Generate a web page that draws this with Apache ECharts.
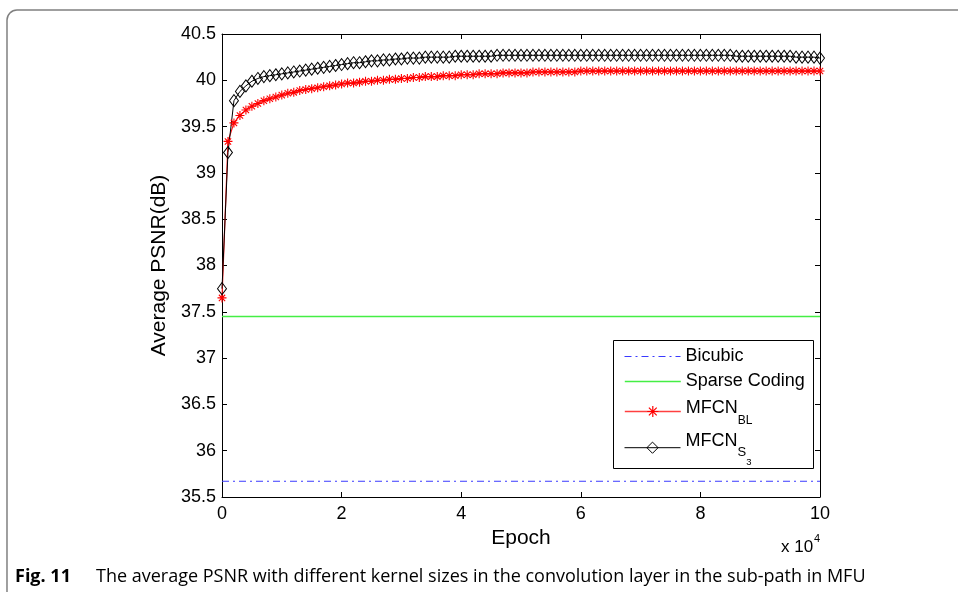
<!DOCTYPE html>
<html>
<head>
<meta charset="utf-8">
<script src="https://cdn.jsdelivr.net/npm/echarts@6/dist/echarts.min.js"></script>
<style>
  html, body { margin: 0; padding: 0; background: #ffffff; }
  #chart { width: 958px; height: 592px; }
</style>
</head>
<body>
<div id="chart"></div>
<script>
// Training epochs (sampled every 1000 epochs)
const epochs = [
  0, 1000, 2000, 3000, 4000, 5000, 6000, 7000, 8000, 9000,
  10000, 11000, 12000, 13000, 14000, 15000, 16000, 17000, 18000, 19000,
  20000, 21000, 22000, 23000, 24000, 25000, 26000, 27000, 28000, 29000,
  30000, 31000, 32000, 33000, 34000, 35000, 36000, 37000, 38000, 39000,
  40000, 41000, 42000, 43000, 44000, 45000, 46000, 47000, 48000, 49000,
  50000, 51000, 52000, 53000, 54000, 55000, 56000, 57000, 58000, 59000,
  60000, 61000, 62000, 63000, 64000, 65000, 66000, 67000, 68000, 69000,
  70000, 71000, 72000, 73000, 74000, 75000, 76000, 77000, 78000, 79000,
  80000, 81000, 82000, 83000, 84000, 85000, 86000, 87000, 88000, 89000,
  90000, 91000, 92000, 93000, 94000, 95000, 96000, 97000, 98000, 99000,
  100000
];

// Average PSNR (dB) of MFCN_BL
const mfcnBL = [
  37.65, 39.34, 39.54, 39.62, 39.68, 39.72, 39.75, 39.78, 39.80, 39.82,
  39.84, 39.86, 39.87, 39.89, 39.90, 39.91, 39.92, 39.93, 39.94, 39.95,
  39.96, 39.97, 39.97, 39.98, 39.99, 39.99, 40.00, 40.00, 40.01, 40.01,
  40.02, 40.02, 40.03, 40.03, 40.04, 40.04, 40.04, 40.05, 40.05, 40.05,
  40.06, 40.06, 40.06, 40.07, 40.07, 40.07, 40.07, 40.08, 40.08, 40.08,
  40.08, 40.08, 40.09, 40.09, 40.09, 40.09, 40.09, 40.09, 40.09, 40.09,
  40.10, 40.10, 40.10, 40.10, 40.10, 40.10, 40.10, 40.10, 40.10, 40.10,
  40.10, 40.10, 40.10, 40.10, 40.10, 40.10, 40.10, 40.10, 40.10, 40.10,
  40.10, 40.10, 40.10, 40.10, 40.10, 40.10, 40.10, 40.10, 40.10, 40.10,
  40.10, 40.10, 40.10, 40.10, 40.10, 40.10, 40.10, 40.10, 40.10, 40.10,
  40.10
];

// Average PSNR (dB) of MFCN_S3
const mfcnS3 = [
  37.75, 39.22, 39.78, 39.88, 39.94, 39.99, 40.02, 40.04, 40.05, 40.06,
  40.07, 40.08, 40.09, 40.10, 40.11, 40.12, 40.13, 40.14, 40.15, 40.16,
  40.17, 40.18, 40.19, 40.19, 40.20, 40.21, 40.21, 40.22, 40.22, 40.23,
  40.23, 40.24, 40.24, 40.24, 40.25, 40.25, 40.25, 40.25, 40.25, 40.26,
  40.26, 40.26, 40.26, 40.26, 40.26, 40.26, 40.27, 40.27, 40.27, 40.27,
  40.27, 40.27, 40.27, 40.27, 40.27, 40.27, 40.27, 40.27, 40.27, 40.27,
  40.27, 40.27, 40.27, 40.27, 40.27, 40.27, 40.27, 40.27, 40.27, 40.27,
  40.27, 40.27, 40.27, 40.27, 40.27, 40.27, 40.27, 40.27, 40.27, 40.27,
  40.27, 40.27, 40.27, 40.27, 40.27, 40.27, 40.26, 40.26, 40.26, 40.26,
  40.26, 40.26, 40.26, 40.26, 40.26, 40.26, 40.25, 40.25, 40.25, 40.25,
  40.24
];

// Baselines (constant over training)
const baselineEpochs = [0, 100000];
const bicubicPSNR = 35.67;
const sparseCodingPSNR = 37.45;

// Axis ranges and ticks
const yMin = 35.5, yMax = 40.5, yStep = 0.5;
const xMin = 0, xMax = 100000, xStep = 20000;

const pair = (xs, ys) => xs.map((x, i) => [x, ys[i]]);

const asterisk = 'path://M0,-10L0,10M-10,0L10,0M-7,-7L7,7M-7,7L7,-7';

const sans = '"Liberation Sans", Arial, Helvetica, sans-serif';
const captionFont = '"Open Sans", "Noto Sans", sans-serif';

const COLORS = {
  bicubic: '#3a3aff',
  sparse: '#44ee44',
  bl: '#ff1a1a',
  s3: '#000000'
};

const chart = echarts.init(document.getElementById('chart'));

const mirrorAxis = {
  axisLine: { show: true, onZero: false, lineStyle: { color: '#000', width: 1 } },
  axisTick: { show: true, inside: true, length: 5, lineStyle: { color: '#000' } },
  axisLabel: { show: false },
  splitLine: { show: false }
};

// One legend block per entry so that the sub-scripted names sit at their own heights
const legendBase = {
  orient: 'vertical',
  left: 624,
  padding: 0,
  itemWidth: 56,
  itemHeight: 14,
  itemGap: 0,
  z: 10,
  textStyle: {
    color: '#000', fontFamily: sans, fontSize: 18,
    rich: {
      m: { fontFamily: sans, fontSize: 18, lineHeight: 22, color: '#000' }
    }
  }
};

function makeLegend(name, top, extra) {
  return Object.assign({}, legendBase, { top: top, data: [name] }, extra || {});
}

// rich-text token helper: top-aligned glyph pushed down by `pad`
function tok(size, lineHeight, pad) {
  return {
    fontFamily: sans, fontSize: size, lineHeight: lineHeight,
    verticalAlign: 'top', padding: [pad, 0, 0, 0], color: '#000'
  };
}

chart.setOption({
  animation: false,
  backgroundColor: '#ffffff',
  grid: { left: 222, right: 138, top: 34, bottom: 95, containLabel: false },
  xAxis: [
    {
      type: 'value', min: xMin, max: xMax, interval: xStep,
      axisLine: { show: true, onZero: false, lineStyle: { color: '#000', width: 1 } },
      axisTick: { show: true, inside: true, length: 5, lineStyle: { color: '#000' } },
      axisLabel: {
        color: '#000', fontFamily: sans, fontSize: 18, margin: 8,
        formatter: v => String(v / 10000)
      },
      splitLine: { show: false },
      name: 'Epoch', nameLocation: 'middle', nameGap: 26,
      nameTextStyle: { color: '#000', fontFamily: sans, fontSize: 21 }
    },
    Object.assign({ type: 'value', position: 'top', min: xMin, max: xMax, interval: xStep }, mirrorAxis)
  ],
  yAxis: [
    {
      type: 'value', min: yMin, max: yMax, interval: yStep,
      axisLine: { show: true, onZero: false, lineStyle: { color: '#000', width: 1 } },
      axisTick: { show: true, inside: true, length: 5, lineStyle: { color: '#000' } },
      axisLabel: { color: '#000', fontFamily: sans, fontSize: 18, margin: 6 },
      splitLine: { show: false },
      name: 'Average PSNR(dB)', nameLocation: 'middle', nameGap: 43, nameRotate: 90,
      nameTextStyle: { color: '#000', fontFamily: sans, fontSize: 21 }
    },
    Object.assign({ type: 'value', position: 'right', min: yMin, max: yMax, interval: yStep }, mirrorAxis)
  ],
  legend: [
    makeLegend('Bicubic', 347.5, {
      formatter: '{m|Bicubic}',
      itemStyle: { opacity: 0 },
      lineStyle: { width: 1, type: [7, 4, 2, 4] }
    }),
    makeLegend('Sparse Coding', 372.5, {
      formatter: '{m|Sparse Coding}',
      itemStyle: { opacity: 0 },
      lineStyle: { width: 1.6 }
    }),
    makeLegend('MFCN_BL', 396.5, {
      formatter: '{m|MFCN}{sub|BL}',
      lineStyle: { width: 1.6, color: '#ff4040' },
      itemStyle: { borderWidth: 1.2, borderColor: '#ff0000' },
      textStyle: {
        color: '#000', fontFamily: sans, fontSize: 18,
        rich: { m: tok(18, 30, 2.95), sub: tok(12, 12, 18.2) }
      }
    }),
    makeLegend('MFCN_S3', 430.7, {
      formatter: '{m|MFCN}{sub|S}{sub2|3}',
      lineStyle: { width: 1 },
      itemStyle: { borderWidth: 1 },
      textStyle: {
        color: '#000', fontFamily: sans, fontSize: 18,
        rich: { m: tok(18, 34, 1.55), sub: tok(13, 13, 15.6), sub2: tok(9.5, 9.5, 26.6) }
      }
    })
  ],
  graphic: [
    {
      // rounded panel border around the figure
      type: 'rect', silent: true, z: -1,
      shape: { x: 7, y: 10, width: 1000, height: 700, r: 10 },
      style: { fill: 'none', stroke: '#808080', lineWidth: 1.5 }
    },
    {
      // legend box
      type: 'rect', silent: true, z: 5,
      shape: { x: 613.5, y: 340.5, width: 200, height: 128 },
      style: { fill: '#ffffff', stroke: '#000', lineWidth: 1 }
    },
    {
      type: 'text', left: 781, top: 539,
      style: { text: 'x 10', fill: '#000', font: '17px ' + sans }
    },
    {
      type: 'text', left: 814, top: 533,
      style: { text: '4', fill: '#000', font: '11px ' + sans }
    },
    {
      type: 'text', left: 15, top: 568,
      style: { text: 'Fig. 11', fill: '#000', font: 'bold 18px ' + captionFont }
    },
    {
      type: 'text', left: 96, top: 568,
      style: {
        text: 'The average PSNR with different kernel sizes in the convolution layer in the sub-path in MFU',
        fill: '#000', font: '18px ' + captionFont
      }
    }
  ],
  series: [
    {
      name: 'Bicubic', type: 'line', symbol: 'none',
      data: pair(baselineEpochs, [bicubicPSNR, bicubicPSNR]),
      lineStyle: { color: COLORS.bicubic, width: 1, type: [7, 4, 2, 4] },
      itemStyle: { color: COLORS.bicubic }
    },
    {
      name: 'Sparse Coding', type: 'line', symbol: 'none',
      data: pair(baselineEpochs, [sparseCodingPSNR, sparseCodingPSNR]),
      lineStyle: { color: COLORS.sparse, width: 1.5 },
      itemStyle: { color: COLORS.sparse }
    },
    {
      name: 'MFCN_BL', type: 'line',
      data: pair(epochs, mfcnBL),
      symbol: asterisk, symbolSize: 9, showAllSymbol: true,
      lineStyle: { color: COLORS.bl, width: 1.2 },
      itemStyle: { color: 'rgba(0,0,0,0)', borderColor: '#ff0000', borderWidth: 1.1 }
    },
    {
      name: 'MFCN_S3', type: 'line',
      data: pair(epochs, mfcnS3),
      symbol: 'diamond', symbolSize: [9, 12], showAllSymbol: true,
      lineStyle: { color: COLORS.s3, width: 1 },
      itemStyle: { color: 'rgba(255,255,255,0)', borderColor: '#000', borderWidth: 1 }
    }
  ]
});
</script>
</body>
</html>
